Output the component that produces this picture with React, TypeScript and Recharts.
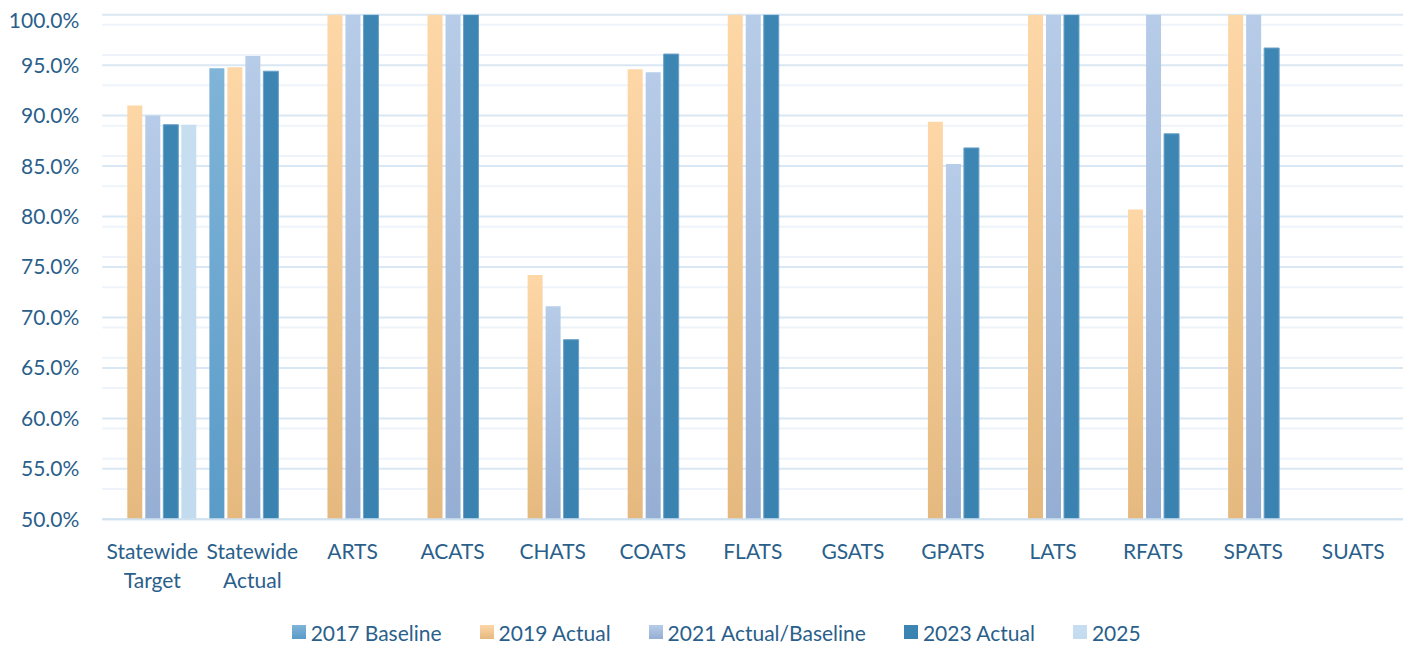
import { BarChart, Bar, XAxis, YAxis, CartesianGrid, Legend } from 'recharts';

const categories = [
  'Statewide Target',
  'Statewide Actual',
  'ARTS',
  'ACATS',
  'CHATS',
  'COATS',
  'FLATS',
  'GSATS',
  'GPATS',
  'LATS',
  'RFATS',
  'SPATS',
  'SUATS',
];

const seriesNames = ['2017 Baseline', '2019 Actual', '2021 Actual/Baseline', '2023 Actual', '2025'];

const baseline2017 = [null, 94.7, null, null, null, null, null, null, null, null, null, null, null];
const actual2019 = [91.0, 94.8, 100, 100, 74.2, 94.6, 100, null, 89.4, 100, 80.7, 100, null];
const actual2021 = [90.0, 95.9, 100, 100, 71.1, 94.3, 100, null, 85.2, 100, 100, 100, null];
const actual2023 = [89.1, 94.4, 100, 100, 67.8, 96.1, 100, null, 86.8, 100, 88.2, 96.7, null];
const target2025 = [89.1, null, null, null, null, null, null, null, null, null, null, null, null];

const majorTicks = [50, 55, 60, 65, 70, 75, 80, 85, 90, 95, 100];
const minorTicks = [
  51, 52, 53, 54, 56, 57, 58, 59, 61, 62, 63, 64, 66, 67, 68, 69, 71, 72, 73, 74,
  76, 77, 78, 79, 81, 82, 83, 84, 86, 87, 88, 89, 91, 92, 93, 94, 96, 97, 98, 99,
];

const seriesValues = [baseline2017, actual2019, actual2021, actual2023, target2025];
const keys = ['s2017', 's2019', 's2021', 's2023', 's2025'];

// top / bottom colours of each series fill
const gradients = [
  ['#80b4d8', '#5a9bc8'],
  ['#fed7a7', '#e5b97e'],
  ['#b6cce8', '#95aed3'],
  ['#3d86b4', '#3a82b0'],
  ['#c7def1', '#c3dbef'],
];

const data = categories.map((name, i) => {
  const row: Record<string, string | number | null> = { name };
  keys.forEach((k, j) => {
    row[k] = seriesValues[j][i];
  });
  return row;
});

const FONT = 'Lato, "Open Sans", sans-serif';
const TEXT = '#2b5f8b';

const CategoryTick = ({ x, y, payload }: any) => {
  const lines = String(payload.value).split(' ');
  return (
    <text x={x} y={y} textAnchor="middle" fill={TEXT} fontSize={21} fontFamily={FONT}>
      {lines.map((l, i) => (
        <tspan key={i} x={x} dy={i === 0 ? 39.5 : 29}>
          {l}
        </tspan>
      ))}
    </text>
  );
};

const LegendContent = () => (
  <div
    style={{
      display: 'flex',
      justifyContent: 'center',
      alignItems: 'center',
      gap: 38,
      marginLeft: 21,
      fontFamily: FONT,
      fontSize: 21,
      color: TEXT,
      height: 24,
    }}
  >
    {seriesNames.map((n, i) => (
      <div key={n} style={{ display: 'flex', alignItems: 'center', gap: 5 }}>
        <span
          style={{
            width: 14,
            height: 14,
            display: 'inline-block',
            background: `linear-gradient(${gradients[i][0]}, ${gradients[i][1]})`,
          }}
        />
        <span>{n}</span>
      </div>
    ))}
  </div>
);

export default function App() {
  return (
    <div style={{ width: 1403, height: 638 }}>
      <BarChart
        width={1403}
        height={638}
        data={data}
        margin={{ top: 6.7, right: 7.7, left: 0, bottom: 2 }}
        barSize={15}
        barGap={3}
      >
        <defs>
          {gradients.map((g, i) => (
            <linearGradient key={i} id={`grad${i}`} x1="0" y1="0" x2="0" y2="1">
              <stop offset="0%" stopColor={g[0]} />
              <stop offset="100%" stopColor={g[1]} />
            </linearGradient>
          ))}
        </defs>
        <CartesianGrid
          vertical={false}
          horizontalValues={minorTicks}
          stroke="#eef4fa"
          strokeWidth={2}
        />
        <CartesianGrid
          vertical={false}
          horizontalValues={majorTicks}
          stroke="#d8e7f3"
          strokeWidth={2}
        />
        <XAxis
          dataKey="name"
          interval={0}
          height={100.7}
          tickLine={false}
          tickSize={0}
          tickMargin={0}
          axisLine={{ stroke: '#d0e2f0', strokeWidth: 2 }}
          tick={<CategoryTick />}
        />
        <YAxis
          type="number"
          domain={[50, 100]}
          ticks={majorTicks}
          allowDataOverflow
          width={94.3}
          axisLine={false}
          tickLine={false}
          tickSize={0}
          tickMargin={23}
          tickFormatter={(v: number) => `${v.toFixed(1)}%`}
          tick={{ fill: TEXT, fontSize: 21, fontFamily: FONT }}
        />
        <Legend verticalAlign="bottom" height={24} content={<LegendContent />} />
        {keys.map((k, i) => (
          <Bar
            key={k}
            dataKey={k}
            name={seriesNames[i]}
            fill={`url(#grad${i})`}
            stroke={i === 3 ? '#6aa2c9' : undefined}
            strokeWidth={i === 3 ? 1 : 0}
            isAnimationActive={false}
          />
        ))}
      </BarChart>
    </div>
  );
}
